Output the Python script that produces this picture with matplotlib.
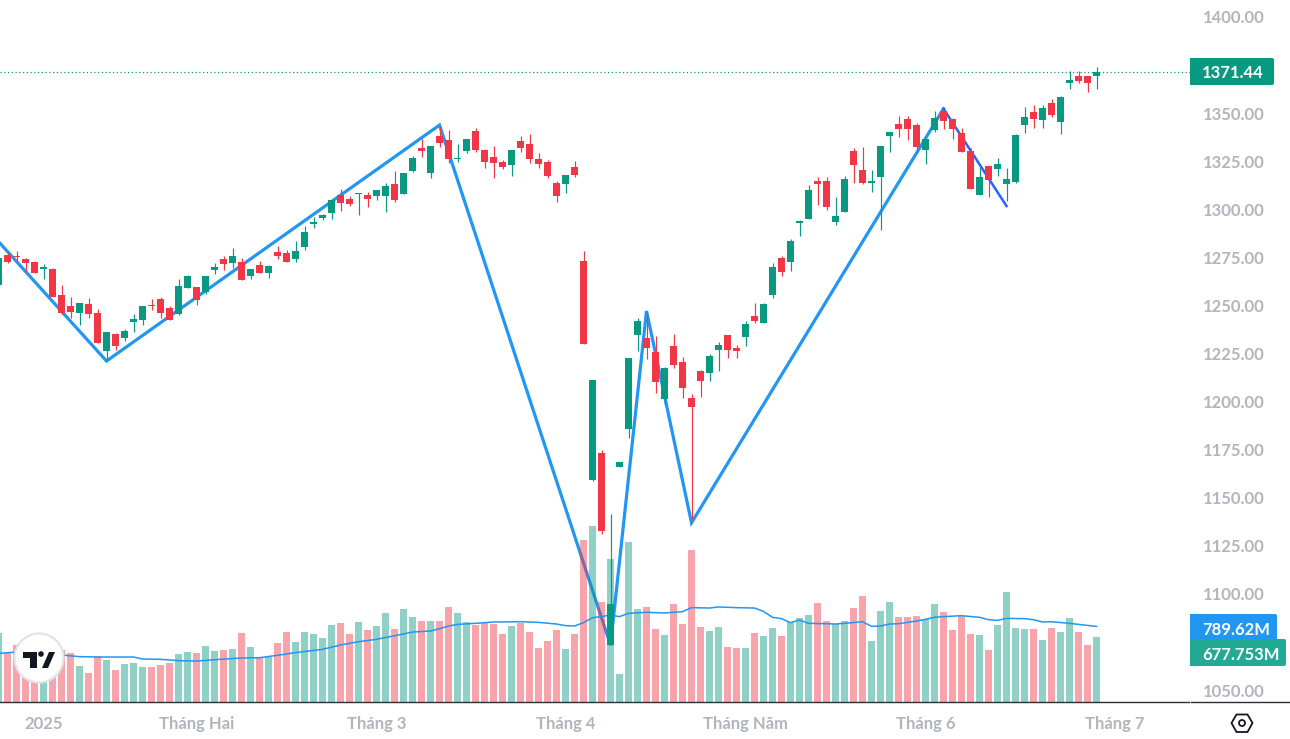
import matplotlib
matplotlib.use('Agg')
import matplotlib.pyplot as plt
from matplotlib.patches import Circle, FancyBboxPatch, Polygon, Rectangle

# daily candles, left to right
opens = [1260.6, 1276.2, 1275.7, 1274.2, 1272.6, 1269.0, 1269.0, 1255.4, 1249.7, 1246.1,
         1250.8, 1246.1, 1226.3, 1235.2, 1233.1, 1241.4, 1242.4, 1250.2, 1253.4, 1248.7,
         1245.6, 1259.1, 1259.6, 1257.0, 1268.4, 1274.2, 1272.1, 1272.6, 1265.3, 1271.0,
         1266.9, 1277.8, 1277.3, 1274.2, 1280.4, 1292.4, 1295.5, 1298.1, 1307.4, 1305.4,
         1308.0, 1307.4, 1306.9, 1306.9, 1313.2, 1308.0, 1319.9, 1331.9, 1318.9, 1338.1,
         1336.0, 1326.2, 1330.3, 1340.7, 1330.8, 1327.2, 1324.6, 1323.0, 1335.5, 1334.0,
         1326.2, 1324.6, 1313.7, 1313.2, 1322.0, 1273.1, 1159.2, 1173.3, 1073.4, 1166.0,
         1185.8, 1234.6, 1233.1, 1225.8, 1201.4, 1228.9, 1220.6, 1201.9, 1215.9, 1214.9,
         1226.8, 1234.6, 1227.9, 1233.6, 1244.5, 1240.9, 1255.4, 1274.7, 1272.6, 1292.9,
         1294.9, 1314.7, 1314.7, 1293.4, 1298.6, 1330.3, 1320.4, 1313.7, 1316.8, 1338.1,
         1344.4, 1347.0, 1343.8, 1330.8, 1341.2, 1351.1, 1347.0, 1339.7, 1330.3, 1307.4,
         1322.5, 1321.0, 1313.2, 1314.2, 1343.8, 1350.6, 1346.4, 1355.3, 1345.4, 1365.7,
         1369.3, 1369.3, 1369.3]
highs = [1274.7, 1277.8, 1278.3, 1274.7, 1273.1, 1271.6, 1269.5, 1260.6, 1254.4, 1251.3,
         1253.9, 1248.2, 1236.2, 1235.7, 1237.8, 1245.6, 1249.7, 1253.4, 1254.4, 1249.7,
         1263.8, 1265.8, 1259.6, 1265.3, 1272.1, 1275.7, 1279.9, 1274.7, 1269.0, 1273.1,
         1271.0, 1280.9, 1278.8, 1283.5, 1291.3, 1296.0, 1297.6, 1304.8, 1310.6, 1306.9,
         1308.5, 1309.0, 1310.0, 1313.7, 1319.9, 1318.9, 1327.7, 1336.6, 1332.9, 1343.3,
         1341.2, 1334.0, 1336.6, 1342.3, 1331.4, 1332.9, 1325.6, 1330.8, 1338.1, 1339.2,
         1329.3, 1325.6, 1314.7, 1317.8, 1325.1, 1278.3, 1211.2, 1174.8, 1141.6, 1168.6,
         1222.7, 1243.5, 1247.1, 1234.1, 1218.0, 1235.2, 1223.2, 1204.0, 1216.4, 1224.8,
         1231.0, 1234.6, 1229.4, 1241.9, 1251.3, 1251.3, 1272.1, 1275.7, 1284.6, 1294.4,
         1312.6, 1316.8, 1316.8, 1306.4, 1317.3, 1331.9, 1332.4, 1320.4, 1332.9, 1340.2,
         1348.5, 1348.5, 1344.9, 1336.6, 1351.1, 1351.1, 1347.5, 1342.3, 1331.9, 1322.5,
         1322.5, 1326.7, 1321.5, 1339.2, 1353.2, 1354.2, 1354.2, 1357.4, 1358.9, 1371.9,
         1371.9, 1369.3, 1374.0]
lows = [1260.6, 1272.1, 1272.6, 1267.6, 1266.9, 1263.8, 1254.4, 1245.6, 1243.5, 1239.8,
        1243.5, 1230.5, 1221.1, 1226.8, 1231.5, 1236.2, 1239.8, 1247.6, 1243.5, 1242.4,
        1245.0, 1259.1, 1250.2, 1256.0, 1266.3, 1268.4, 1269.5, 1263.2, 1263.8, 1266.9,
        1264.3, 1274.2, 1272.6, 1272.6, 1278.8, 1290.3, 1294.4, 1295.0, 1299.1, 1301.7,
        1297.0, 1301.2, 1304.8, 1298.6, 1303.8, 1308.0, 1319.4, 1327.2, 1316.3, 1332.4,
        1324.1, 1324.6, 1329.3, 1329.8, 1321.5, 1316.3, 1321.0, 1317.3, 1329.8, 1324.1,
        1321.5, 1316.3, 1303.8, 1308.5, 1316.8, 1230.0, 1158.7, 1131.2, 1073.4, 1166.0,
        1181.1, 1226.3, 1222.2, 1204.5, 1198.2, 1217.5, 1201.9, 1138.4, 1202.4, 1210.7,
        1215.9, 1222.7, 1222.7, 1228.9, 1240.9, 1240.9, 1253.9, 1265.3, 1267.9, 1286.1,
        1294.9, 1302.2, 1299.6, 1291.8, 1298.6, 1313.7, 1313.2, 1309.0, 1289.2, 1329.8,
        1337.6, 1336.0, 1329.3, 1323.6, 1340.2, 1341.8, 1336.6, 1329.8, 1310.6, 1307.4,
        1306.4, 1317.3, 1304.3, 1313.7, 1339.7, 1342.3, 1342.3, 1348.0, 1339.2, 1362.6,
        1365.7, 1361.0, 1362.6]
closes = [1274.7, 1272.6, 1275.4, 1272.1, 1266.9, 1270.0, 1254.4, 1246.1, 1246.6, 1251.3,
          1245.6, 1230.5, 1236.2, 1228.9, 1236.7, 1243.0, 1249.7, 1249.9, 1246.1, 1242.4,
          1260.1, 1265.3, 1252.8, 1265.3, 1270.0, 1271.6, 1275.7, 1263.2, 1269.0, 1266.9,
          1270.5, 1275.7, 1272.6, 1278.3, 1288.2, 1293.4, 1297.0, 1304.8, 1303.3, 1302.8,
          1308.5, 1305.4, 1310.0, 1312.1, 1304.8, 1318.9, 1326.7, 1330.3, 1332.9, 1334.5,
          1326.2, 1326.7, 1336.6, 1330.8, 1324.6, 1324.1, 1322.0, 1330.8, 1331.9, 1326.2,
          1323.6, 1317.3, 1306.9, 1317.8, 1317.8, 1230.0, 1211.2, 1132.7, 1094.8, 1168.6,
          1222.7, 1241.9, 1227.9, 1210.2, 1217.5, 1219.0, 1207.1, 1197.2, 1210.7, 1223.7,
          1229.4, 1226.8, 1226.3, 1240.4, 1241.9, 1250.8, 1270.0, 1267.4, 1283.5, 1293.9,
          1310.0, 1313.2, 1301.2, 1296.5, 1315.8, 1323.0, 1313.7, 1314.7, 1332.9, 1340.2,
          1341.8, 1341.8, 1332.4, 1336.6, 1347.5, 1345.9, 1341.8, 1329.8, 1310.6, 1316.8,
          1315.2, 1323.6, 1315.8, 1338.6, 1348.0, 1347.0, 1352.7, 1349.0, 1358.4, 1367.2,
          1366.7, 1365.7, 1371.44]

# volume in millions, same order as the candles
volumes = [721, 508, 596, 560, 520, 480, 520, 540, 512, 376,
           303, 481, 439, 334, 397, 407, 366, 366, 387, 407,
           502, 522, 512, 585, 533, 543, 554, 721, 575, 470,
           481, 616, 731, 627, 731, 711, 669, 805, 825, 711,
           836, 752, 794, 930, 763, 972, 888, 846, 846, 846,
           993, 930, 836, 805, 825, 815, 711, 794, 825, 731,
           564, 637, 752, 554, 711, 1693, 1839, 1045, 1494, 293,
           1672, 972, 993, 763, 700, 1024, 815, 1588, 784, 742,
           784, 575, 564, 564, 721, 690, 773, 690, 836, 878,
           909, 1034, 846, 815, 846, 982, 1108, 637, 951, 1045,
           888, 888, 899, 867, 1024, 940, 752, 899, 711, 700,
           543, 805, 1149, 773, 763, 763, 648, 773, 731, 878,
           731, 596, 677.753]

# volume moving average, read at these candles
ma_days = [0, 2, 7, 9, 11, 15, 16, 18, 20, 22, 24, 27, 29, 31, 33, 36, 38, 40, 42, 45,
           46, 48, 49, 50, 51, 53, 55, 58, 60, 62, 63, 64, 65, 66, 67, 68, 69, 70, 72, 74,
           76, 77, 79, 80, 82, 84, 85, 86, 87, 88, 89, 90, 92, 93, 94, 96, 97, 98, 99, 100,
           102, 103, 104, 105, 107, 109, 110, 111, 112, 114, 115, 116, 117, 119, 122]
ma_values = [508, 522, 491, 474, 470, 470, 449, 446, 432, 428, 442, 460, 463, 488, 516, 550, 596, 630, 655, 711,
             731, 742, 766, 794, 811, 822, 836, 839, 832, 815, 798, 794, 829, 881, 892, 909, 892, 927, 937, 930,
             944, 986, 982, 993, 986, 982, 947, 885, 871, 829, 857, 822, 818, 815, 822, 839, 791, 794, 815, 818,
             846, 864, 885, 892, 902, 885, 860, 853, 874, 871, 860, 836, 839, 822, 789.62]

# drawn zigzag over the swings
swing_days = [0, 12, 49, 68, 72, 77, 105]
swing_prices = [1283.2, 1221.1, 1343.8, 1073.4, 1247.1, 1137.0, 1352.3]
last_leg_days = [105, 112]
last_leg_prices = [1352.3, 1301.7]

# 1075 and 1375 sit behind the value tags, the chart does not print them
price_ticks = [1050, 1100, 1125, 1150, 1175, 1200, 1225, 1250, 1275, 1300, 1325, 1350, 1400]
month_days = [5, 22, 42, 63, 83, 103, 124]
month_labels = ['2025', 'Tháng Hai', 'Tháng 3', 'Tháng 4', 'Tháng Năm', 'Tháng 6', 'Tháng 7']

UP = '#089981'
DOWN = '#f23645'
BLUE = '#2196f3'
GREY = '#b2b5be'
FONT = 'Lato'
FS = 12


def tag(ax, left, top, right, bottom, color, text):
    # value tag on the price scale, rounded on the right side only
    ax.add_patch(FancyBboxPatch((left, top), right - left, bottom - top,
                                boxstyle='round,pad=0,rounding_size=2', lw=0, fc=color, zorder=5))
    ax.add_patch(Rectangle((left, top), 6, bottom - top, lw=0, fc=color, zorder=5))
    ax.text(left + 12, (top + bottom) / 2 + 0.5, text, color='white', fontsize=FS, family=FONT,
            weight='bold', ha='left', va='center_baseline', zorder=6)


def draw_overlay(ax):
    # axis lines
    ax.plot([0, 1189], [702, 702], color='#2a2e39', lw=1.0)
    ax.plot([1191, 1290], [702, 702], color='#2a2e39', lw=1.0)

    tag(ax, 1190, 58, 1274, 85, UP, '1371.44')
    tag(ax, 1190, 614, 1277, 642, BLUE, '789.62M')
    tag(ax, 1190, 639, 1286, 666, '#22ab94', '677.753M')

    # tradingview badge
    ax.add_patch(Circle((39, 658), 24.5, fc='white', ec='#e0e3eb', lw=1.6, zorder=7))
    ax.add_patch(Polygon([(23, 652), (37, 652), (37, 668), (30, 668), (30, 658), (23, 658)],
                         fc='#131722', lw=0, zorder=8))
    ax.add_patch(Circle((41, 654), 2.8, fc='#131722', lw=0, zorder=8))
    ax.add_patch(Polygon([(49, 652), (55, 652), (48, 668), (42, 668)], fc='#131722', lw=0, zorder=8))

    # settings icon
    ax.add_patch(Polygon([(1231.5, 723), (1236.5, 714.5), (1247.5, 714.5), (1252.5, 723),
                          (1247.5, 732), (1236.5, 732)], fc='white', ec='#131722', lw=1.3))
    ax.add_patch(Circle((1242, 723), 3, fc='white', ec='#131722', lw=1.3))


def main():
    fig = plt.figure(figsize=(12.9, 7.39), dpi=100, facecolor='white')
    rect = [0, 37 / 739, 1190 / 1290, 702 / 739]
    xlim = (1.5 / 9, 1191.5 / 9)
    ylim = (1043.8, 1408.84)
    days = list(range(len(closes)))

    # layers bottom to top: zigzag, volume, candles
    ax_swing = fig.add_axes(rect, zorder=1)
    ax_vol = fig.add_axes(rect, zorder=2)
    ax_price = fig.add_axes(rect, zorder=3)
    for ax in (ax_swing, ax_vol, ax_price):
        ax.set_xlim(xlim)
        ax.patch.set_alpha(0)
        for s in ax.spines.values():
            s.set_visible(False)
    ax_swing.set_ylim(ylim)
    ax_price.set_ylim(ylim)
    ax_vol.set_ylim(0, 7336)
    ax_swing.set_xticks([])
    ax_swing.set_yticks([])
    ax_vol.set_xticks([])
    ax_vol.set_yticks([])

    ax_swing.plot(swing_days, swing_prices, color=BLUE, lw=2.3, solid_joinstyle='miter')
    ax_swing.plot(last_leg_days, last_leg_prices, color='#2962ff', lw=1.8)

    vol_colors = [UP if c >= o else DOWN for o, c in zip(opens, closes)]
    ax_vol.bar(days, volumes, width=0.88, color=vol_colors, alpha=0.45, lw=0)
    ax_vol.plot(ma_days, ma_values, color=BLUE, lw=1.1)

    colors = [UP if c >= o else DOWN for o, c in zip(opens, closes)]
    ax_price.vlines(days, lows, highs, colors=colors, lw=0.85)
    bottoms = [min(o, c) for o, c in zip(opens, closes)]
    heights = [max(abs(o - c), 0.3) for o, c in zip(opens, closes)]
    ax_price.bar(days, heights, bottom=bottoms, width=0.78, color=colors, lw=0)
    ax_price.axhline(closes[-1], color=UP, lw=0.9, ls=(0, (1, 2)))

    ax_price.yaxis.tick_right()
    ax_price.set_yticks(price_ticks)
    ax_price.set_yticklabels(['%.2f' % p for p in price_ticks])
    ax_price.set_xticks(month_days)
    ax_price.set_xticklabels(month_labels)
    ax_price.tick_params(axis='y', length=0, pad=9, labelcolor=GREY, labelsize=FS)
    ax_price.tick_params(axis='x', length=0, pad=10, labelcolor=GREY, labelsize=FS)
    for label in ax_price.get_xticklabels() + ax_price.get_yticklabels():
        label.set_family(FONT)
        label.set_weight('bold')

    # pixel space layer for the scale tags, badge and icon
    ax_px = fig.add_axes([0, 0, 1, 1], zorder=4)
    ax_px.set_xlim(0, 1290)
    ax_px.set_ylim(739, 0)
    ax_px.axis('off')
    ax_px.patch.set_alpha(0)
    draw_overlay(ax_px)

    fig.savefig('out.png', dpi=100)


main()
